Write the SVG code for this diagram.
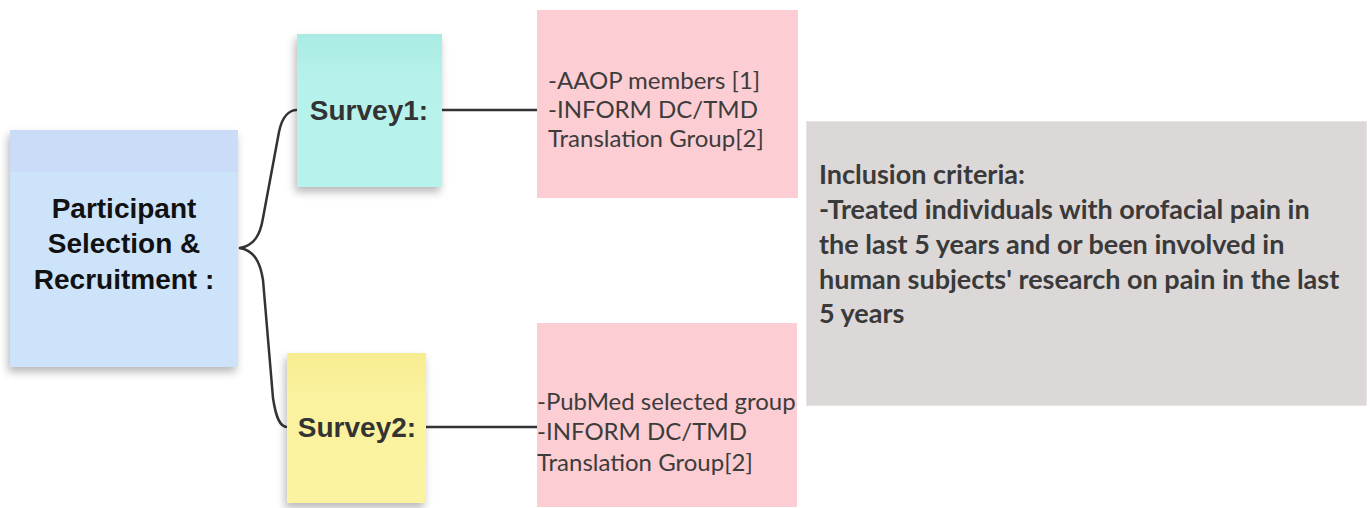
<svg xmlns="http://www.w3.org/2000/svg" width="1372" height="508" viewBox="0 0 1372 508">
<style>
.note{font-family:"Liberation Sans",Arial,sans-serif;font-weight:bold;font-size:28px;text-anchor:middle}
.list{font-family:Lato,"Open Sans",sans-serif;font-size:24px;fill:#3c3c3c}
.crit{font-family:Lato,"Open Sans",sans-serif;font-weight:bold;font-size:27px;fill:#3a3a3a}
.conn{fill:none;stroke:#333;stroke-width:2.5;stroke-linecap:round}
</style>
<defs>
<filter id="sh" x="-20%" y="-20%" width="140%" height="150%">
<feDropShadow dx="-2" dy="5" stdDeviation="4" flood-color="#000" flood-opacity="0.28"/>
</filter>
<linearGradient id="gTeal" x1="0" y1="0" x2="0" y2="1">
<stop offset="0" stop-color="#a9ebe3"/><stop offset="0.3" stop-color="#b6f2eb"/><stop offset="1" stop-color="#b8f2ec"/>
</linearGradient>
<linearGradient id="gYel" x1="0" y1="0" x2="0" y2="1">
<stop offset="0" stop-color="#f8ec92"/><stop offset="0.3" stop-color="#fbf29f"/><stop offset="1" stop-color="#fbf3a1"/>
</linearGradient>
</defs>
<rect width="1372" height="508" fill="#fff"/>
<g id="connectors">
<path class="conn" d="M240 248 C254 245 260 236 263 218 L279 132 C282 117 289 110 297 110"/>
<path class="conn" d="M240 248 C254 251 260 261 263 280 L273 398 C276 418 280 427 287 427"/>
<path class="conn" d="M442 110 L537 110"/>
<path class="conn" d="M426 427 L537 427"/>
</g>
<g id="participant">
<rect x="10" y="130" width="228" height="237" fill="#cde3f9" filter="url(#sh)"/>
<rect x="10" y="130" width="228" height="42" fill="#cadcf7"/>
<text class="note" fill="#111"><tspan x="124" y="218">Participant</tspan><tspan x="124" y="253">Selection &amp;</tspan><tspan x="124" y="289">Recruitment :</tspan></text>
</g>
<g id="survey1">
<rect x="297" y="34" width="145" height="153" fill="url(#gTeal)" filter="url(#sh)"/>
<text class="note" fill="#333" x="369" y="120">Survey1:</text>
</g>
<g id="survey2">
<rect x="287" y="353" width="139" height="150" fill="url(#gYel)" filter="url(#sh)"/>
<text class="note" fill="#333" x="357" y="437">Survey2:</text>
</g>
<g id="sources1">
<rect x="537" y="10" width="261" height="188" fill="#fccdd2"/>
<text class="list"><tspan x="548" y="89">-AAOP members [1]</tspan><tspan x="548" y="118">-INFORM DC/TMD</tspan><tspan x="548" y="147">Translation Group[2]</tspan></text>
</g>
<g id="sources2">
<rect x="537" y="323" width="260" height="184" fill="#fccdd2"/>
<text class="list"><tspan x="537" y="410">-PubMed selected group</tspan><tspan x="537" y="440">-INFORM DC/TMD</tspan><tspan x="537" y="471">Translation Group[2]</tspan></text>
</g>
<g id="criteria">
<rect x="806.5" y="121.5" width="560" height="284" fill="#ddd8d8" stroke="#e8e4e4" stroke-width="1"/>
<text class="crit"><tspan x="819" y="184">Inclusion criteria:</tspan><tspan x="819" y="219">-Treated individuals with orofacial pain in</tspan><tspan x="819" y="254">the last 5 years and or been involved in</tspan><tspan x="819" y="289">human subjects' research on pain in the last</tspan><tspan x="819" y="323">5 years</tspan></text>
</g>
</svg>
